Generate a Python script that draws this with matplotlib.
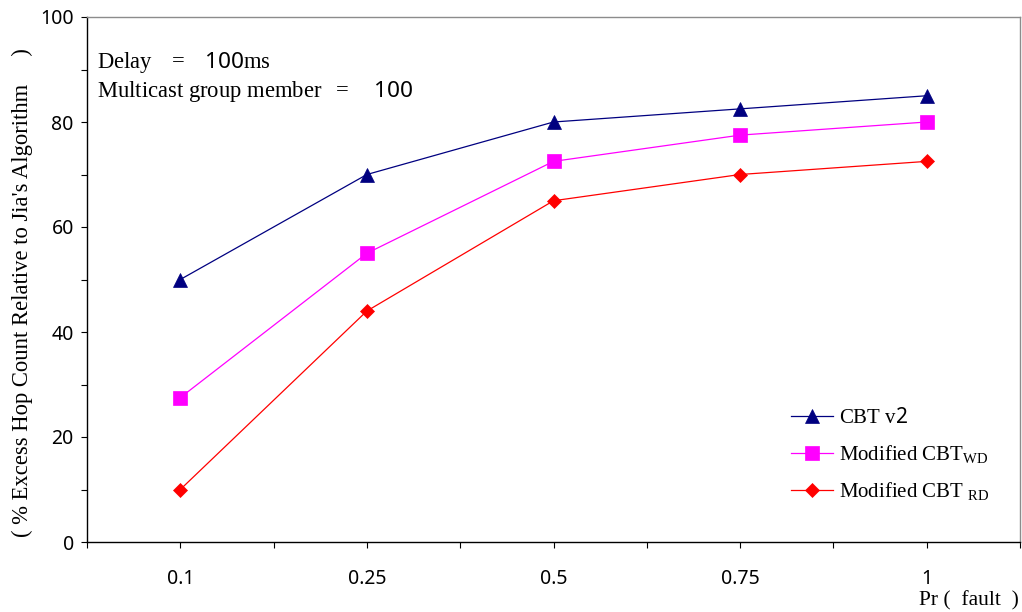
import matplotlib
matplotlib.use("Agg")
import matplotlib.pyplot as plt
from matplotlib.ticker import FixedLocator, NullFormatter
import numpy as np

# Fault probability categories and % excess hop count relative to Jia's algorithm
pr_fault = ["0.1", "0.25", "0.5", "0.75", "1"]
cbt_v2 = [50, 70, 80, 82.5, 85]
cbt_wd = [27.5, 55, 72.5, 77.5, 80]
cbt_rd = [10, 44, 65, 70, 72.5]

SERIF = ["Liberation Serif", "DejaVu Serif"]
SANS = ["Noto Sans", "DejaVu Sans"]

plt.rcParams["mathtext.fontset"] = "custom"
plt.rcParams["mathtext.rm"] = "Liberation Serif"
plt.rcParams["mathtext.it"] = "Liberation Serif:italic"
plt.rcParams["mathtext.sf"] = "Noto Sans"

W, H = 1022, 612
fig = plt.figure(figsize=(W / 100, H / 100), dpi=100)
ax = fig.add_axes([87 / W, 70 / H, 933 / W, 525 / H])

x = np.arange(len(pr_fault))
ax.plot(x, cbt_v2, color="#000080", lw=0.9, marker="^", ms=10, mew=0.5,
        label=r"CBT v$\mathsf{2}$")
ax.plot(x, cbt_wd, color="#FF00FF", lw=0.9, marker="s", ms=10.5, mew=0.5,
        label=r"Modified CBT$_{\mathrm{WD}}$")
ax.plot(x, cbt_rd, color="#FF0000", lw=0.9, marker="D", ms=7.2, mew=0.5,
        label=r"Modified CBT $_{\mathrm{RD}}$")

ax.set_xlim(-0.5, len(pr_fault) - 0.5)
ax.set_ylim(0, 100)

# x axis: labelled ticks at categories, unlabelled ticks between them
ax.set_xticks(x)
ax.set_xticklabels(pr_fault, fontfamily=SANS, fontsize=14)
ax.xaxis.set_minor_locator(FixedLocator(np.arange(-0.5, len(pr_fault), 1.0)))
ax.xaxis.set_minor_formatter(NullFormatter())

ax.set_yticks(np.arange(0, 101, 20))
ax.set_yticklabels([str(v) for v in range(0, 101, 20)], fontfamily=SANS, fontsize=14)
ax.yaxis.set_minor_locator(FixedLocator(np.arange(10, 100, 20)))

ax.tick_params(axis="both", which="both", direction="out", length=4.5,
               width=0.8, color="black")
ax.tick_params(axis="x", which="major", pad=15)
ax.tick_params(axis="y", which="major", pad=5)

for side in ("left", "bottom"):
    ax.spines[side].set_color("black")
    ax.spines[side].set_linewidth(1.0)
for side in ("top", "right"):
    ax.spines[side].set_color("#8c8c8c")
    ax.spines[side].set_linewidth(1.0)

# Simulation parameters
ax.text(10 / 933, (542 - 68) / 525, r"Delay   $=$   $\mathsf{100}$ms",
        transform=ax.transAxes, fontfamily=SERIF, fontsize=16.3, va="baseline")
ax.text(10 / 933, (542 - 97) / 525, r"Multicast group member  $=$    $\mathsf{100}$",
        transform=ax.transAxes, fontfamily=SERIF, fontsize=16.3, va="baseline")

# Axis titles
fig.text(22 / W, 1 - 293 / H, "( % Excess Hop Count Relative to Jia's Algorithm     )",
         rotation=90, ha="center", va="center", fontfamily=SERIF, fontsize=16.3)
fig.text(1019 / W, 7 / H, "Pr (  fault  )", ha="right", va="baseline",
         fontfamily=SERIF, fontsize=15.5)

leg = ax.legend(loc="upper left", bbox_to_anchor=((791 - 87) / 933, (542 - 408) / 525),
                frameon=False, borderaxespad=0, borderpad=0,
                prop={"family": SERIF, "size": 15},
                handlelength=2.0, handletextpad=0.3, labelspacing=0.72)

fig.savefig("out.png", dpi=100)
